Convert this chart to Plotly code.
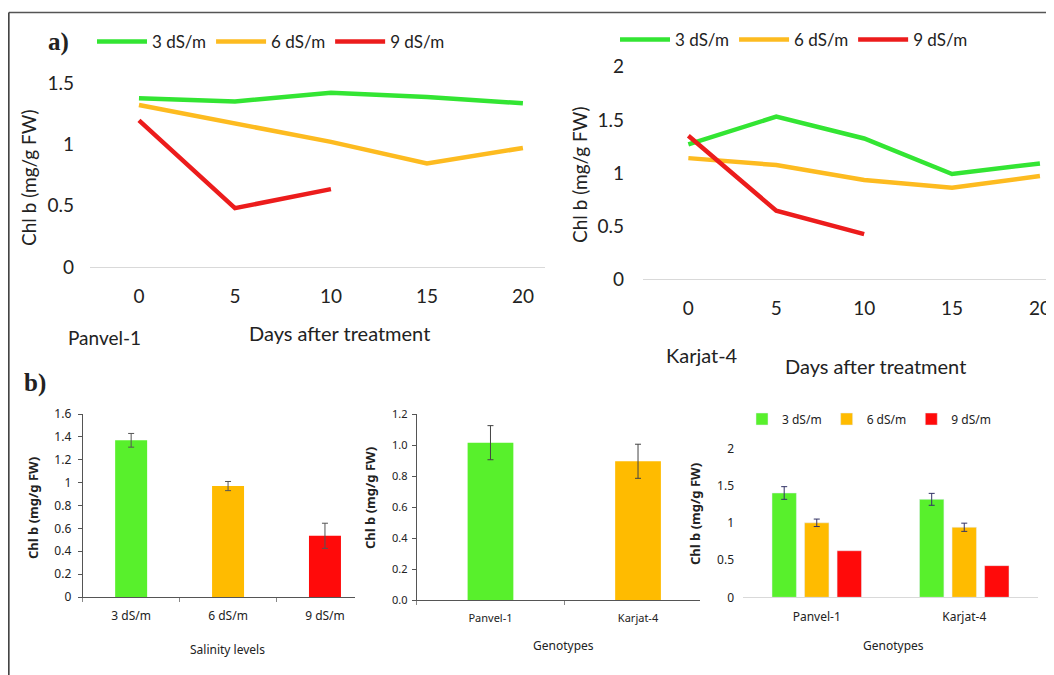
import plotly.graph_objects as go

# page offset (browser body margin) compensation
OX, OY = 8, 8
W, H = 1054 - OX, 675 - OY

# ---------------- data ----------------
days = [0, 5, 10, 15, 20]
days_red = [0, 5, 10]
salinity_labels = ["3 dS/m", "6 dS/m", "9 dS/m"]
genotypes = ["Panvel-1", "Karjat-4"]

panvel_3 = [1.375, 1.35, 1.42, 1.385, 1.335]
panvel_6 = [1.32, 1.17, 1.02, 0.845, 0.97]
panvel_9 = [1.195, 0.48, 0.635]

karjat_3 = [1.27, 1.53, 1.325, 0.99, 1.09]
karjat_6 = [1.14, 1.075, 0.935, 0.862, 0.972]
karjat_9 = [1.35, 0.645, 0.425]

salinity_mean = [1.37, 0.97, 0.535]
salinity_err = [0.06, 0.04, 0.11]

genotype_mean = [1.015, 0.895]
genotype_err = [0.11, 0.11]

geno_3 = [1.40, 1.315]
geno_3_err = [0.085, 0.08]
geno_6 = [1.0, 0.94]
geno_6_err = [0.05, 0.055]
geno_9 = [0.625, 0.425]

# ---------------- styling ----------------
GREEN = "#33e533"
ORANGE = "#fdbb20"
RED = "#ec1c1c"
BGREEN = "#58f02c"
BORANGE = "#ffbb00"
BRED = "#ff0a0a"
TOPFONT = "Lato, 'Open Sans', sans-serif"
BFONT = "'Liberation Sans Narrow', 'Noto Sans', sans-serif"
TXT = "#222222"


def xd(a, b):
    return [(a - OX) / W, (b - OX) / W]


def yd(top, bottom):
    return [1 - (bottom - OY) / H, 1 - (top - OY) / H]


def px(x):
    return (x - OX) / W


def py(y):
    return 1 - (y - OY) / H


fig = go.Figure()

# ---- a) Panvel-1 ----
for name, y, x, c in [("3 dS/m", panvel_3, days, GREEN),
                      ("6 dS/m", panvel_6, days, ORANGE),
                      ("9 dS/m", panvel_9, days_red, RED)]:
    fig.add_trace(go.Scatter(x=x, y=y, mode="lines", name=name,
                             line=dict(color=c, width=4.5),
                             xaxis="x", yaxis="y", legend="legend"))

# ---- a) Karjat-4 ----
for name, y, x, c in [("3 dS/m", karjat_3, days, GREEN),
                      ("6 dS/m", karjat_6, days, ORANGE),
                      ("9 dS/m", karjat_9, days_red, RED)]:
    fig.add_trace(go.Scatter(x=x, y=y, mode="lines", name=name,
                             line=dict(color=c, width=4.5),
                             xaxis="x2", yaxis="y2", legend="legend2"))

# ---- b) salinity levels ----
fig.add_trace(go.Bar(x=salinity_labels, y=salinity_mean, width=0.33,
                     marker=dict(color=[BGREEN, BORANGE, BRED], line=dict(width=0)),
                     error_y=dict(type="data", array=salinity_err, color="#555555",
                                  thickness=1, width=3),
                     showlegend=False, xaxis="x3", yaxis="y3"))

# ---- b) genotypes ----
fig.add_trace(go.Bar(x=genotypes, y=genotype_mean, width=0.31,
                     marker=dict(color=[BGREEN, BORANGE], line=dict(width=0)),
                     error_y=dict(type="data", array=genotype_err, color="#444444",
                                  thickness=1, width=3),
                     showlegend=False, xaxis="x4", yaxis="y4"))

# ---- b) genotype x salinity ----
fig.add_trace(go.Bar(x=genotypes, y=geno_3, name="3 dS/m", marker=dict(color=BGREEN),
                     error_y=dict(type="data", array=geno_3_err, color="#333366",
                                  thickness=1, width=3),
                     xaxis="x5", yaxis="y5", legend="legend3"))
fig.add_trace(go.Bar(x=genotypes, y=geno_6, name="6 dS/m", marker=dict(color=BORANGE),
                     error_y=dict(type="data", array=geno_6_err, color="#333366",
                                  thickness=1, width=3),
                     xaxis="x5", yaxis="y5", legend="legend3"))
fig.add_trace(go.Bar(x=genotypes, y=geno_9, name="9 dS/m", marker=dict(color=BRED),
                     xaxis="x5", yaxis="y5", legend="legend3"))

topx = dict(showgrid=False, zeroline=False, showline=True, linecolor="#d9d9d9",
            linewidth=1, tickvals=days, ticks="", ticklabelstandoff=12,
            ticklabeloverflow="allow",
            tickfont=dict(family=TOPFONT, size=19, color=TXT))
topy = dict(showgrid=False, zeroline=False, showline=False, ticks="",
            ticklabelstandoff=15, tickfont=dict(family=TOPFONT, size=19, color=TXT))

fig.update_layout(
    width=W, height=H,
    margin=dict(l=0, r=0, t=0, b=0, autoexpand=False),
    paper_bgcolor="white", plot_bgcolor="white",
    barmode="group", bargap=0.338, bargroupgap=0.25,
    xaxis=dict(topx, domain=xd(90, 545), range=[-2.55, 21.15], anchor="y"),
    yaxis=dict(topy, domain=yd(83, 267), range=[0, 1.5], dtick=0.5, anchor="x"),
    xaxis2=dict(topx, domain=xd(643, 1054), range=[-2.58, 20.8], anchor="y2"),
    yaxis2=dict(topy, domain=yd(66.7, 279.3), range=[0, 2], dtick=0.5, anchor="x2",
                ticklabelstandoff=18),
    xaxis3=dict(domain=xd(82.7, 355), range=[-0.5, 2.31], anchor="y3",
                showline=True, linecolor="#555555", linewidth=1, showgrid=False,
                ticks="outside", tickson="boundaries", ticklen=4, tickcolor="#888888",
                ticklabelstandoff=8,
                tickfont=dict(family=BFONT, size=12, color=TXT)),
    yaxis3=dict(domain=yd(414, 597), range=[0, 1.6], dtick=0.2, anchor="x3",
                showline=True, linecolor="#555555", linewidth=1, showgrid=False,
                zeroline=False, ticks="outside", ticklen=4, tickcolor="#555555",
                ticklabelstandoff=4,
                tickfont=dict(family=BFONT, size=12, color=TXT)),
    xaxis4=dict(domain=xd(416.7, 700), range=[-0.5, 1.42], anchor="y4",
                showline=True, linecolor="#555555", linewidth=1, showgrid=False,
                ticks="outside", tickson="boundaries", ticklen=4, tickcolor="#888888",
                ticklabelstandoff=8,
                tickfont=dict(family=BFONT, size=11, color=TXT)),
    yaxis4=dict(domain=yd(414, 600), range=[0, 1.2], dtick=0.2, tickformat=".1f",
                anchor="x4", showline=True, linecolor="#555555", linewidth=1,
                showgrid=False, zeroline=False, ticks="outside", ticklen=4,
                tickcolor="#555555", ticklabelstandoff=2,
                tickfont=dict(family=BFONT, size=11, color=TXT)),
    xaxis5=dict(domain=xd(743, 1038), range=[-0.5, 1.5], anchor="y5",
                showline=True, linecolor="#d9d9d9", linewidth=1, showgrid=False,
                ticks="", ticklabelstandoff=8,
                tickfont=dict(family=BFONT, size=12, color=TXT)),
    yaxis5=dict(domain=yd(448.3, 597.3), range=[0, 2], dtick=0.5, anchor="x5",
                showline=False, showgrid=False, zeroline=False, ticks="",
                ticklabelstandoff=8,
                tickfont=dict(family=BFONT, size=12, color=TXT)),
    legend=dict(orientation="h", x=px(92), y=py(42), xanchor="left", yanchor="middle",
                font=dict(family=TOPFONT, size=17, color=TXT), bgcolor="rgba(0,0,0,0)",
                itemwidth=50),
    legend2=dict(orientation="h", x=px(615), y=py(40), xanchor="left", yanchor="middle",
                 font=dict(family=TOPFONT, size=17, color=TXT), bgcolor="rgba(0,0,0,0)",
                 itemwidth=50),
    legend3=dict(orientation="h", x=px(742), y=py(419), xanchor="left", yanchor="middle",
                 font=dict(family=BFONT, size=12, color=TXT), bgcolor="rgba(0,0,0,0)",
                 itemwidth=30),
)

ann = []


def text(x, y, s, size, family=TOPFONT, angle=0, bold=False):
    ann.append(dict(x=px(x), y=py(y), xref="paper", yref="paper",
                    text=f"<b>{s}</b>" if bold else s, showarrow=False,
                    textangle=angle, xanchor="center", yanchor="middle",
                    font=dict(family=family, size=size, color=TXT)))


text(58, 42, "a)", 25, "'Liberation Serif', serif", bold=True)
text(35, 383, "b)", 25, "'Liberation Serif', serif", bold=True)
text(28, 178, "Chl b (mg/g FW)", 19, angle=-90)
text(580, 175, "Chl b (mg/g FW)", 19, angle=-90)
text(104, 338, "Panvel-1", 19)
text(339, 333, "Days after treatment", 20)
text(702, 355, "Karjat-4", 20)
text(875, 366, "Days after treatment", 20)
text(33, 508, "Chl b (mg/g FW)", 13, BFONT, angle=-90, bold=True)
text(370, 498, "Chl b (mg/g FW)", 13, BFONT, angle=-90, bold=True)
text(695, 514, "Chl b (mg/g FW)", 13, BFONT, angle=-90, bold=True)
text(227, 649, "Salinity levels", 12, BFONT)
text(563, 645, "Genotypes", 12, BFONT)
text(893, 645, "Genotypes", 12, BFONT)

fig.update_layout(annotations=ann)

# outer frame (top and left edges)
fig.add_shape(type="line", xref="paper", yref="paper", x0=0.0008, x1=1, y0=py(12.5),
              y1=py(12.5), line=dict(color="#555555", width=1.5))
fig.add_shape(type="line", xref="paper", yref="paper", x0=0.0008, x1=0.0008, y0=0,
              y1=py(12.5), line=dict(color="#333333", width=1.5))

fig.write_html("out.html")
